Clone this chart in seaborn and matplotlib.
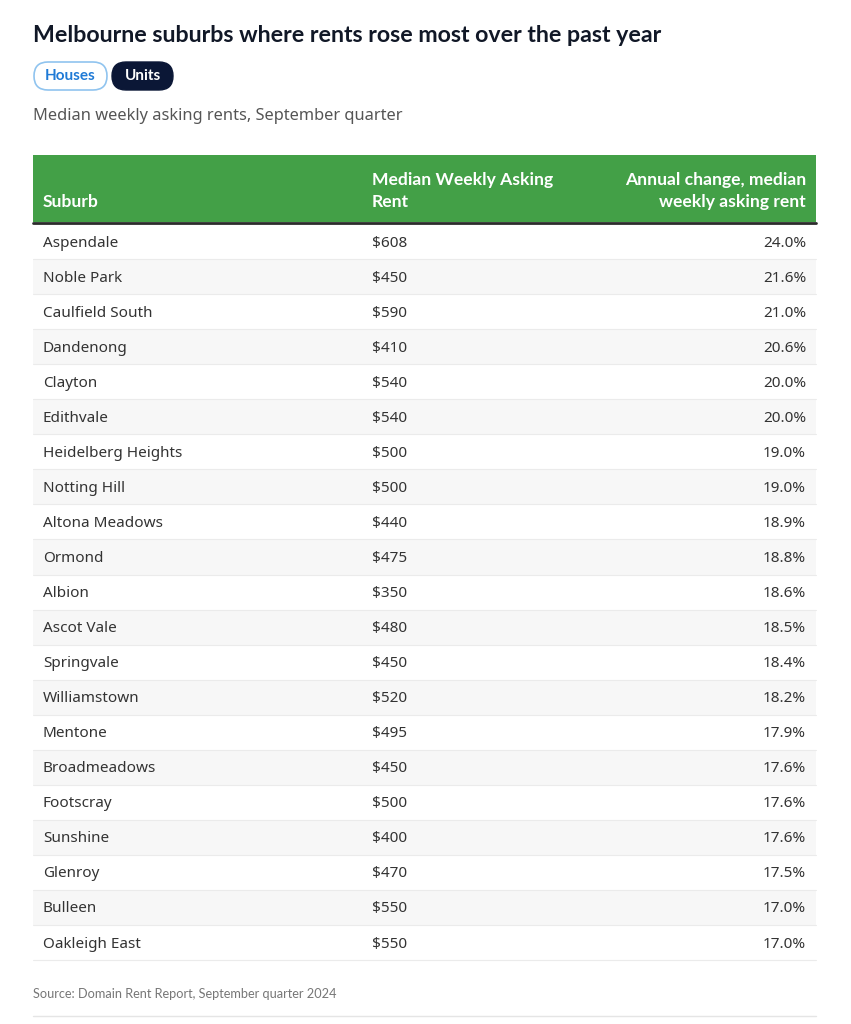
import matplotlib
matplotlib.use("Agg")
import matplotlib.pyplot as plt
import seaborn as sns
from matplotlib.patches import FancyBboxPatch, Rectangle

# data
suburbs = ["Aspendale", "Noble Park", "Caulfield South", "Dandenong", "Clayton",
           "Edithvale", "Heidelberg Heights", "Notting Hill", "Altona Meadows", "Ormond",
           "Albion", "Ascot Vale", "Springvale", "Williamstown", "Mentone",
           "Broadmeadows", "Footscray", "Sunshine", "Glenroy", "Bulleen", "Oakleigh East"]
rents = [608, 450, 590, 410, 540, 540, 500, 500, 440, 475,
         350, 480, 450, 520, 495, 450, 500, 400, 470, 550, 550]
changes = [24.0, 21.6, 21.0, 20.6, 20.0, 20.0, 19.0, 19.0, 18.9, 18.8,
           18.6, 18.5, 18.4, 18.2, 17.9, 17.6, 17.6, 17.6, 17.5, 17.0, 17.0]
col_headers = ["Suburb", "Median Weekly Asking\nRent", "Annual change, median\nweekly asking rent"]

title = "Melbourne suburbs where rents rose most over the past year"
subtitle = "Median weekly asking rents, September quarter"
source = "Source: Domain Rent Report, September quarter 2024"

sns.set_theme(style="white")
plt.rcParams["font.family"] = ["Noto Sans", "DejaVu Sans"]
bold_fam = ["Lato", "DejaVu Sans"]

W, H = 851, 1024
fig = plt.figure(figsize=(W / 100, H / 100), dpi=100)
ax = fig.add_axes([0, 0, 1, 1])
ax.set_xlim(0, W)
ax.set_ylim(H, 0)
ax.axis("off")

green = "#43a047"
text_col = "#333333"
left, right = 33, 816
head_top, head_bot = 155, 222
row_h = 35.05

# title and buttons
ax.text(left, 35, title, fontsize=16.7, fontweight="bold", color="#111827", va="center",
        family=bold_fam)
ax.add_patch(FancyBboxPatch((left + 1, 62), 73, 28, boxstyle="round,pad=0,rounding_size=14",
                            fc="white", ec="#90c4ef", lw=1.2))
ax.text(left + 37, 76.5, "Houses", fontsize=11, fontweight="bold", color="#1f7ad6",
        ha="center", va="center", family=bold_fam)
ax.add_patch(FancyBboxPatch((112, 62), 61, 28, boxstyle="round,pad=0,rounding_size=14",
                            fc="#0b1736", ec="#0b1736", lw=1))
ax.text(142.5, 76.5, "Units", fontsize=11, fontweight="bold", color="white",
        ha="center", va="center", family=bold_fam)
ax.text(left, 116, subtitle, fontsize=11.8, color="#555555", va="center")

# header
ax.add_patch(Rectangle((left, head_top), right - left, head_bot - head_top, fc=green, ec="none"))
ax.plot([left, right], [head_bot + 1, head_bot + 1], color="#2b2b2b", lw=2)
hfont = dict(fontsize=12.6, fontweight="bold", color="white", va="bottom",
             family=bold_fam, linespacing=1.5)
ax.text(43, 210, col_headers[0], ha="left", **hfont)
ax.text(372, 210, col_headers[1], ha="left", **hfont)
ax.text(806, 210, col_headers[2], ha="right", **hfont)

# rows
top = head_bot + 2
for i, (s, r, c) in enumerate(zip(suburbs, rents, changes)):
    y0 = top + i * row_h
    if i % 2 == 1:
        ax.add_patch(Rectangle((left, y0), right - left, row_h, fc="#f7f7f7", ec="none"))
    ax.plot([left, right], [y0 + row_h, y0 + row_h], color="#ebebeb", lw=0.8)
    yc = y0 + row_h / 2 + 1.5
    ax.text(43, yc, s, fontsize=11, color=text_col, va="center")
    ax.text(372, yc, f"${r}", fontsize=11, color=text_col, va="center")
    ax.text(806, yc, f"{c:.1f}%", fontsize=11, color=text_col, ha="right", va="center")

# footer
ax.text(left, 994, source, fontsize=9.2, color="#777777", va="center", family=bold_fam)
ax.plot([left, right], [1016, 1016], color="#e5e5e5", lw=1)

fig.savefig("out.png", dpi=100, facecolor="white")
